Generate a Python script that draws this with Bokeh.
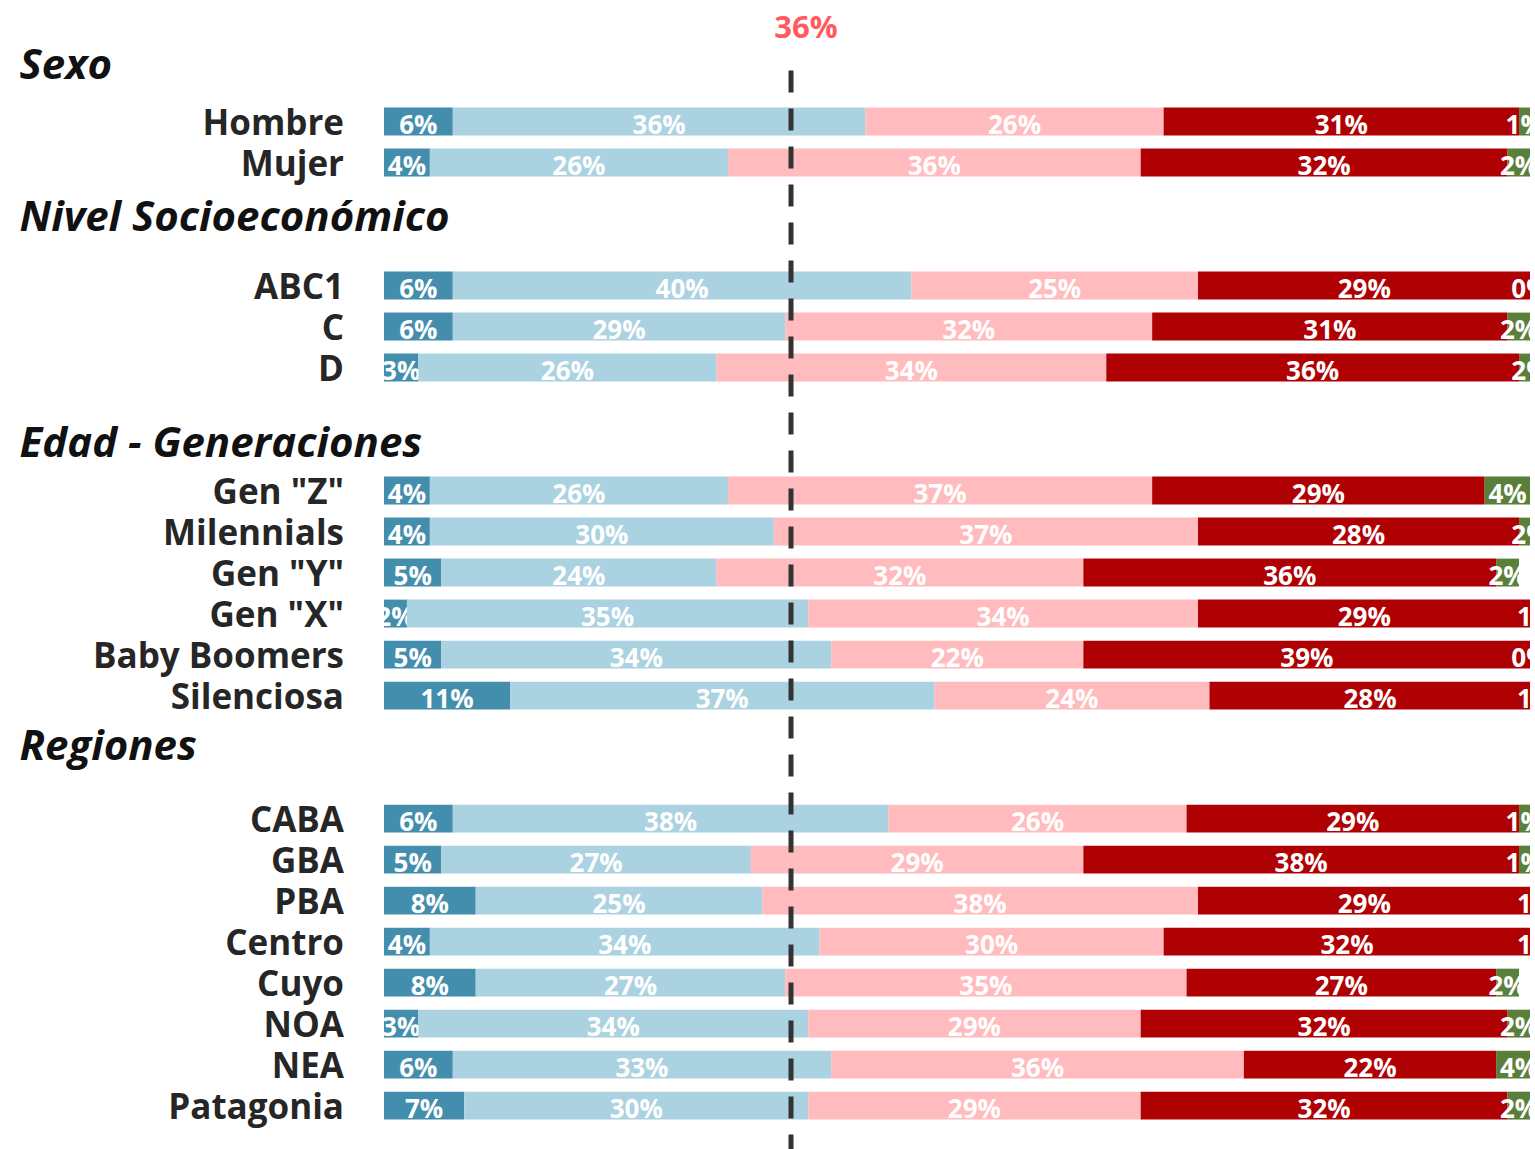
from bokeh.plotting import figure
from bokeh.models import ColumnDataSource, Range1d
from bokeh.core.properties import value
from bokeh.embed import file_html
from bokeh.resources import INLINE

# ---------------- data ----------------
groups = ["Sexo", "Nivel Socioeconómico", "Edad - Generaciones", "Regiones"]
group_rows = [
    ["Hombre", "Mujer"],
    ["ABC1", "C", "D"],
    ['Gen "Z"', "Milennials", 'Gen "Y"', 'Gen "X"', "Baby Boomers", "Silenciosa"],
    ["CABA", "GBA", "PBA", "Centro", "Cuyo", "NOA", "NEA", "Patagonia"],
]
seg1 = [6, 4, 6, 6, 3, 4, 4, 5, 2, 5, 11, 6, 5, 8, 4, 8, 3, 6, 7]
seg2 = [36, 26, 40, 29, 26, 26, 30, 24, 35, 34, 37, 38, 27, 25, 34, 27, 34, 33, 30]
seg3 = [26, 36, 25, 32, 34, 37, 37, 32, 34, 22, 24, 26, 29, 38, 30, 35, 29, 36, 29]
seg4 = [31, 32, 29, 31, 36, 29, 28, 36, 29, 39, 28, 29, 38, 29, 32, 27, 32, 22, 32]
seg5 = [1, 2, 0, 2, 2, 4, 2, 2, 1, 0, 1, 1, 1, 1, 1, 2, 2, 4, 2]
reference_value = 35.5
reference_label = "36%"

# ---------------- style ----------------
colors = ["#448ead", "#abd2e0", "#ffbbbe", "#af0004", "#5a7f3a"]
FONT = "Open Sans"
header_offsets = [-1.43, -1.74, -1.22, -1.83]
ROW_GAP = 3  # rows between last row of a group and first row of next

# row positions
row_names, row_y, header_y = [], [], []
pos = 0
for gi, rows in enumerate(group_rows):
    header_y.append(pos + header_offsets[gi])
    for r in rows:
        row_names.append(r)
        row_y.append(pos)
        pos += 1
    pos += ROW_GAP - 1

segs = [seg1, seg2, seg3, seg4, seg5]

X0 = -33.45
p = figure(width=1530, height=1149, output_backend="svg", toolbar_location=None,
           x_range=Range1d(X0, 100), y_range=Range1d(25.07, -2.951),
           min_border=0, min_border_left=0, min_border_right=0,
           min_border_top=0, min_border_bottom=0)
p.axis.visible = False
p.grid.visible = False
p.outline_line_color = None
p.background_fill_color = "white"

BAR_H = 0.68
left = [0.0] * len(row_names)
for si, seg in enumerate(segs):
    right = [l + v for l, v in zip(left, seg)]
    mid = [l + v / 2 for l, v in zip(left, seg)]
    src = ColumnDataSource(dict(y=row_y, left=left, right=right, mid=mid,
                                lab=[f"{v}%" for v in seg]))
    p.hbar(y="y", left="left", right="right", height=BAR_H, source=src,
           fill_color=colors[si], line_color=None)
    p.text(x="mid", y="y", text="lab", source=src, text_color="white",
           text_font=value(FONT), text_font_style="bold", text_font_size="26px",
           text_align="center", text_baseline="middle", y_offset=2)
    left = right

# reference line
p.segment(x0=[reference_value], x1=[reference_value], y0=[-1.244], y1=[25.1],
          line_color="#333333", line_width=5, line_dash="22 16")
p.text(x=[reference_value], y=[-2.33], text=[reference_label], text_color="#ff5a5f",
       text_font=value(FONT), text_font_style="bold", text_font_size="31px",
       text_align="center", text_baseline="middle", x_offset=15)

# category labels
p.text(x=[0] * len(row_names), y=row_y, text=row_names, text_color="#262626",
       text_font=value(FONT), text_font_style="bold", text_font_size="35px",
       text_align="right", text_baseline="middle", x_offset=-40)

# group headers
p.text(x=[X0] * len(groups), y=header_y, text=groups, text_color="#111111",
       text_font=value(FONT), text_font_style="bold italic", text_font_size="42px",
       text_align="left", text_baseline="middle", x_offset=19)

open("out.html", "w").write(file_html(p, INLINE))
